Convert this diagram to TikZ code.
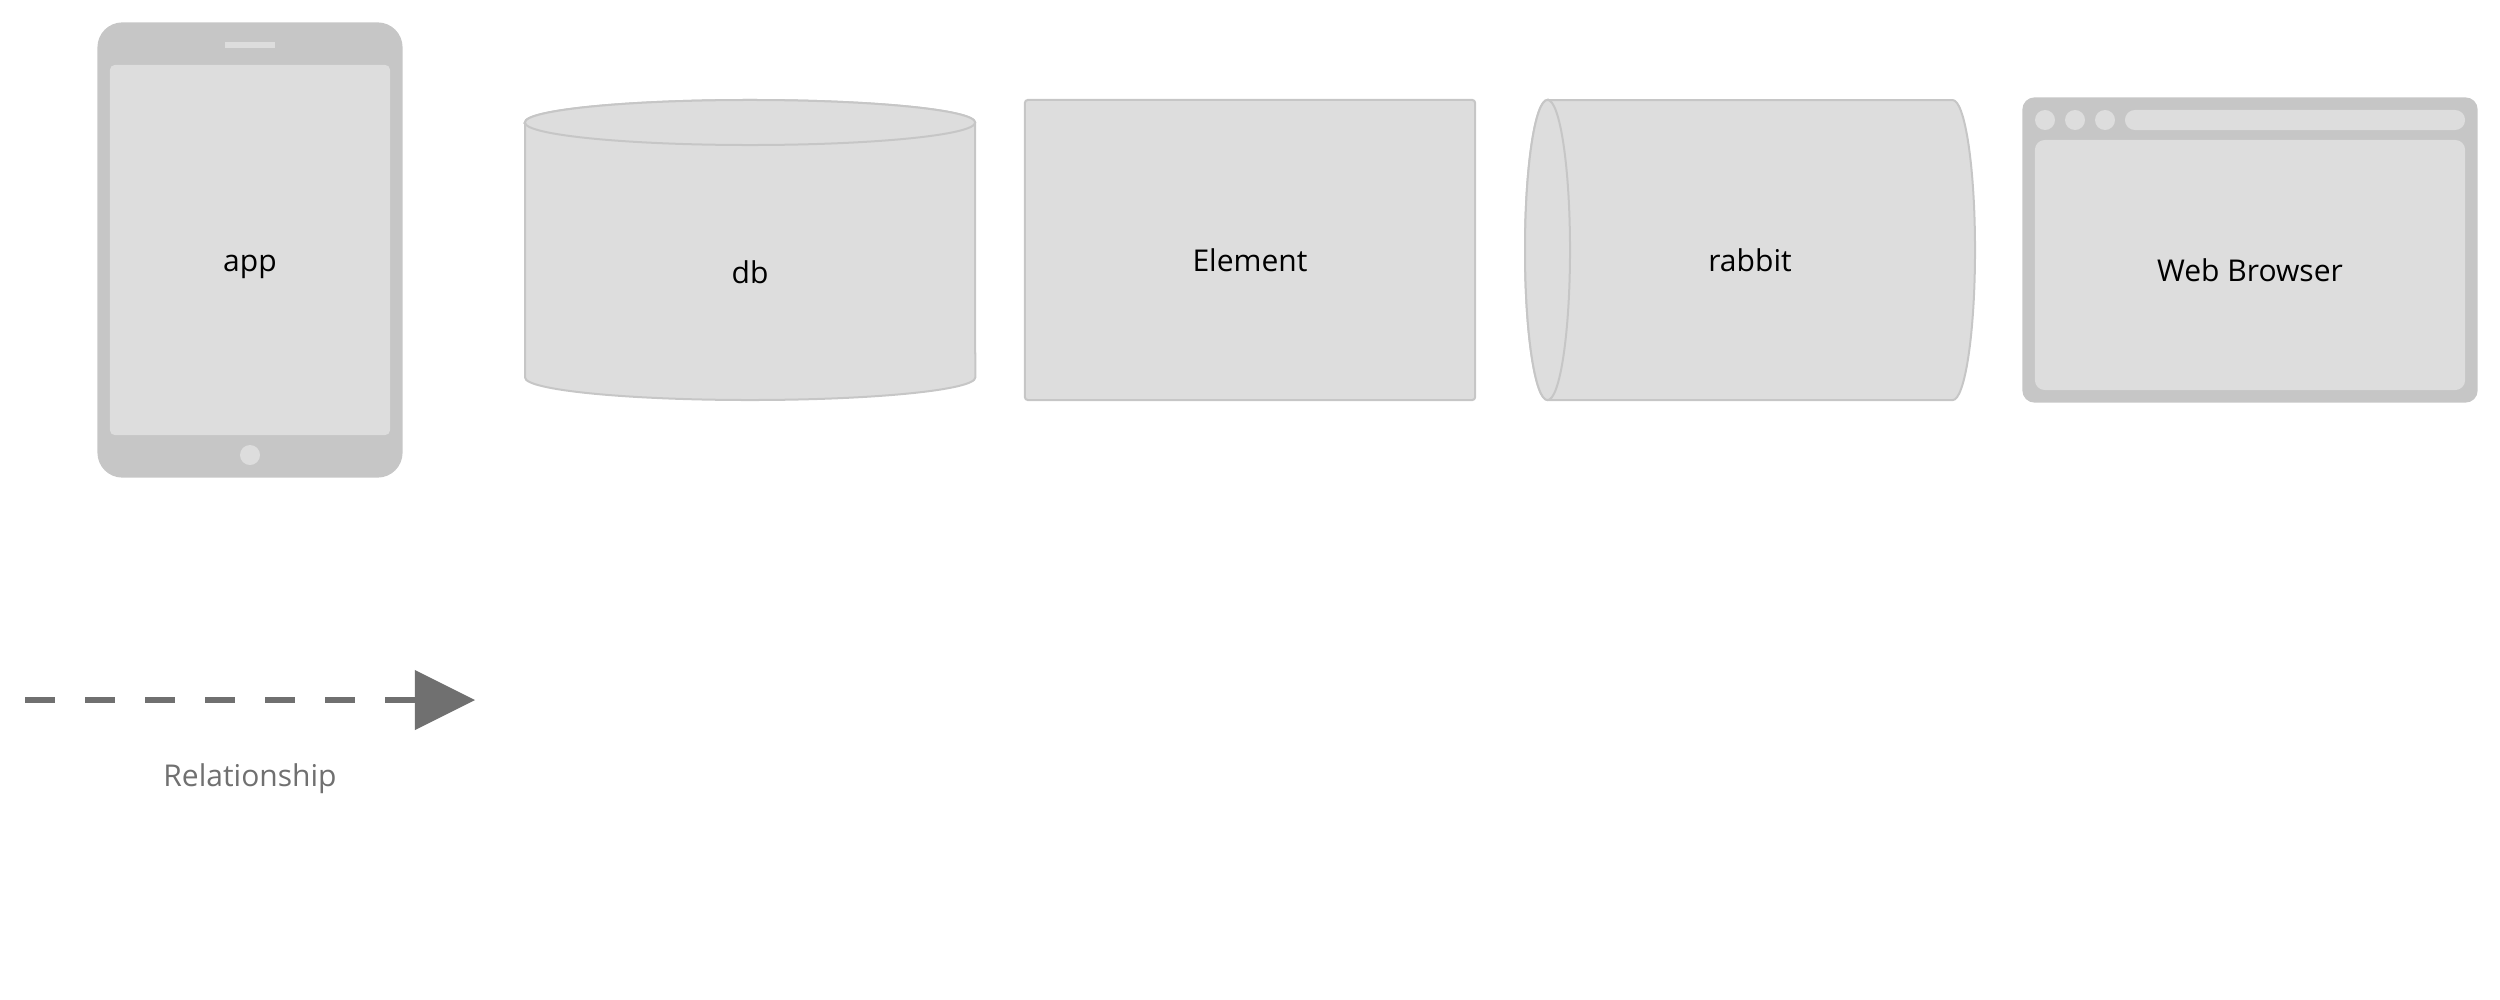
\documentclass[tikz,border=0pt]{standalone}
\usepackage{fontspec}
\setmainfont{Open Sans}
\definecolor{shapefill}{HTML}{DDDDDD}
\definecolor{shapeedge}{HTML}{C6C6C6}
\definecolor{relcolor}{HTML}{707070}
\usetikzlibrary{arrows.meta}
\tikzset{
    labeltext/.style={anchor=base,inner sep=0pt,text=black,font=\fontsize{8.54}{11}\selectfont},
    plainbox/.style={draw=shapeedge,fill=shapefill,line width=0.02cm,inner sep=0pt},
    framebody/.style={fill=shapeedge,inner sep=0pt},
    framepart/.style={fill=shapefill,inner sep=0pt},
    framedot/.style={framepart,circle,minimum size=0.2cm},
    relline/.style={relcolor,line width=0.06cm,dash pattern=on 0.3cm off 0.3cm,
        -{Triangle[length=0.6cm,width=0.6cm,line width=0pt]}},
}
\begin{document}
\begin{tikzpicture}[x=0.01cm,y=-0.01cm]
    \useasboundingbox (0,0) rectangle (2500,1000);
    % tablet
    \node[framebody,rounded corners=0.25cm,minimum width=3.05cm,minimum height=4.55cm] (appbody) at (250,250) {};
    \node[framepart,rounded corners=0.05cm,minimum width=2.8cm,minimum height=3.7cm] (appscreen) at (250,250) {};
    \node[framepart,minimum width=0.5cm,minimum height=0.05cm] (appspeaker) at (250,45) {};
    \node[framedot] (apphome) at (250,455) {};
    % db
    \draw[plainbox] (525,122.5) -- (525,377.5) arc[start angle=180,end angle=360,x radius=2.25cm,y radius=0.225cm]
        -- (975,122.5) arc[start angle=0,end angle=180,x radius=2.25cm,y radius=0.225cm] -- cycle;
    \draw[plainbox] (750,122.5) ellipse[x radius=2.25cm,y radius=0.225cm];
    \node[plainbox,rounded corners=0.03cm,minimum width=4.5cm,minimum height=3cm] (elementbody) at (1250,250) {};
    % rabbit
    \draw[plainbox] (1547.5,100) -- (1952.5,100) arc[start angle=90,end angle=-90,x radius=0.225cm,y radius=1.5cm]
        -- (1547.5,400) arc[start angle=270,end angle=90,x radius=0.225cm,y radius=1.5cm] -- cycle;
    \draw[plainbox] (1547.5,250) ellipse[x radius=0.225cm,y radius=1.5cm];
    % browser
    \node[framebody,rounded corners=0.12cm,minimum width=4.55cm,minimum height=3.05cm] (webbody) at (2250,250) {};
    \node[framepart,rounded corners=0.1cm,minimum width=4.3cm,minimum height=2.5cm] (webpage) at (2250,265) {};
    \node[framepart,rounded corners=0.1cm,minimum width=3.4cm,minimum height=0.2cm] (webbar) at (2295,120) {};
    \foreach \x in {2045,2075,2105}
    \node[framedot] (webdot\x) at (\x,120) {};
    % labels
    \foreach \name/\x/\y/\txt in {applabel/250/271/app,dblabel/750/283/db,elementlabel/1250/271/Element,rabbitlabel/1750/271/rabbit,weblabel/2250/281/Web Browser}
    \node[labeltext] (\name) at (\x,\y) {\txt};
    % relationship
    \coordinate (relstart) at (25,700);
    \coordinate (relend) at (475,700);
    \draw[relline] (relstart) -- (relend);
    \node[labeltext,text=relcolor] (rellabel) at (250,786) {Relationship};
\end{tikzpicture}
\end{document}
